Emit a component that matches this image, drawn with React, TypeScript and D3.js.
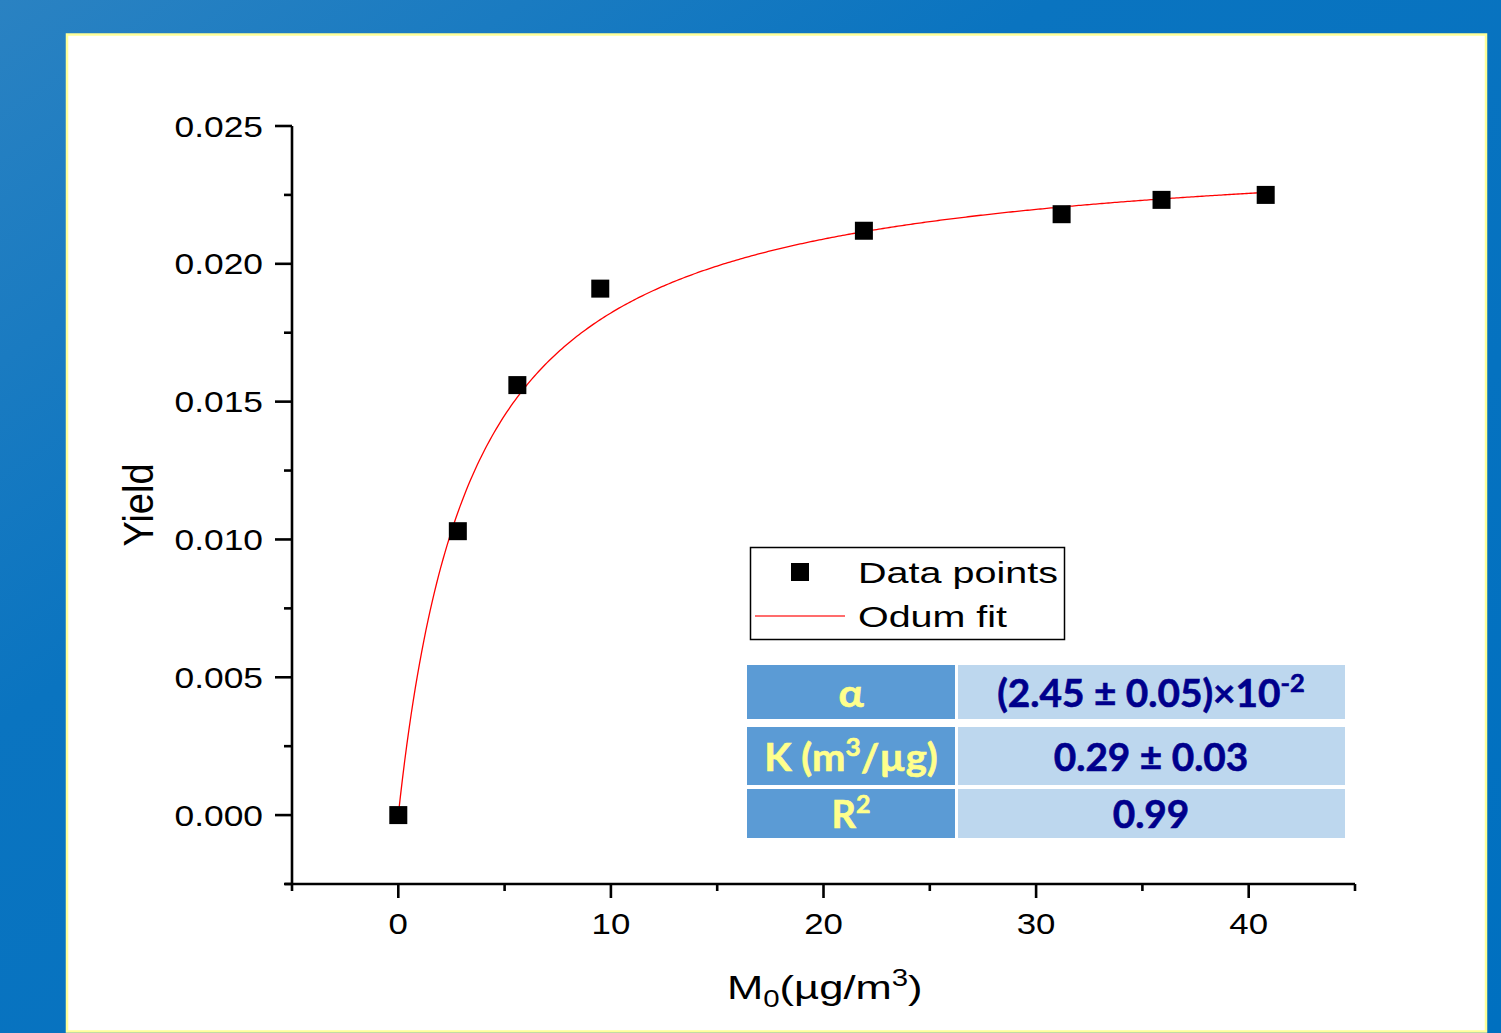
import React from "react";
import * as d3 from "d3";

const M0 = [0, 2.8, 5.6, 9.5, 21.9, 31.2, 35.9, 40.8];
const YIELD = [0.0, 0.0103, 0.0156, 0.0191, 0.0212, 0.0218, 0.02232, 0.0225];
const ALPHA = 0.0245;
const K = 0.29;
const X_MAJOR = [0, 10, 20, 30, 40];
const X_MINOR = [-5, 5, 15, 25, 35, 45];
const Y_MAJOR = [0, 0.005, 0.01, 0.015, 0.02, 0.025];
const Y_MINOR = [-0.0025, 0.0025, 0.0075, 0.0125, 0.0175, 0.0225];
const LEGEND = ["Data points", "Odum fit"];

const W = 1501;
const H = 1033;

export default function App() {
  const x = d3.scaleLinear().domain([-5, 45]).range([292, 1355]);
  const y = d3.scaleLinear().domain([-0.0025, 0.025]).range([884, 126]);

  const fitXs = d3.range(0, 40.8001, 0.1);
  const fitLine = d3
    .line<number>()
    .x((m) => x(m))
    .y((m) => y((ALPHA * K * m) / (1 + K * m)))(fitXs);

  const tickFont = "'Liberation Sans', Arial, sans-serif";
  const tblFont = "Lato, 'Open Sans', sans-serif";
  const yellow = "#ffff8c";
  const navy = "#00008c";

  return (
    <svg
      width={W}
      height={H}
      style={{ position: "absolute", left: 0, top: 0 }}
      xmlns="http://www.w3.org/2000/svg"
    >
      <defs>
        <linearGradient id="bg" x1="0" y1="0" x2="1" y2="1">
          <stop offset="0" stopColor="#2a82c2" />
          <stop offset="0.35" stopColor="#0a74c0" />
          <stop offset="1" stopColor="#0070c0" />
        </linearGradient>
      </defs>
      <rect x={0} y={0} width={W} height={H} fill="url(#bg)" />
      <rect x={67} y={34.5} width={1419} height={997} fill="#ffffff" stroke="#ffff99" strokeWidth={2.5} />

      {/* axes */}
      <g stroke="#000" strokeWidth={2.6} fill="none">
        <line x1={292} y1={y(0.025)} x2={292} y2={884} />
        <line x1={285} y1={884} x2={x(45)} y2={884} />
        {Y_MAJOR.map((v) => (
          <line key={"ym" + v} x1={275} x2={292} y1={y(v)} y2={y(v)} />
        ))}
        {Y_MINOR.map((v) => (
          <line key={"yn" + v} x1={284} x2={292} y1={y(v)} y2={y(v)} />
        ))}
        {X_MAJOR.map((v) => (
          <line key={"xm" + v} x1={x(v)} x2={x(v)} y1={884} y2={898} />
        ))}
        {X_MINOR.map((v) => (
          <line key={"xn" + v} x1={x(v)} x2={x(v)} y1={884} y2={891} />
        ))}
      </g>

      {/* tick labels */}
      <g fontFamily={tickFont} fontSize={29} fill="#000">
        {Y_MAJOR.map((v) => (
          <text
            key={"yl" + v}
            transform={`translate(263,${y(v) + 10.5}) scale(1.22,1)`}
            textAnchor="end"
          >
            {d3.format(".3f")(v)}
          </text>
        ))}
        {X_MAJOR.map((v) => (
          <text
            key={"xl" + v}
            transform={`translate(${x(v)},${934}) scale(1.2,1)`}
            textAnchor="middle"
          >
            {v}
          </text>
        ))}
      </g>

      {/* axis titles */}
      <text
        transform="translate(153,505) rotate(-90) scale(1,1.12)"
        textAnchor="middle"
        fontFamily={tickFont}
        fontSize={38}
      >
        Yield
      </text>
      <text transform="translate(727,999) scale(1.28,1)" fontFamily={tickFont} fontSize={34}>
        <tspan>M</tspan>
        <tspan fontSize={23} dy={8}>0</tspan>
        <tspan dy={-8}>(µg/m</tspan>
        <tspan fontSize={23} dy={-13}>3</tspan>
        <tspan dy={13}>)</tspan>
      </text>

      {/* fit curve */}
      <path d={fitLine || ""} fill="none" stroke="#ff0000" strokeWidth={1.3} />

      {/* data points */}
      {M0.map((m, i) => (
        <rect key={"p" + i} x={x(m) - 9} y={y(YIELD[i]) - 9} width={18} height={18} fill="#000" />
      ))}

      {/* legend */}
      <rect x={750.5} y={547.5} width={314} height={92} fill="#fff" stroke="#000" strokeWidth={1.5} />
      <rect x={791} y={563} width={18} height={18} fill="#000" />
      <line x1={755} x2={845} y1={616} y2={616} stroke="#ff3b3b" strokeWidth={1.5} />
      <text x={858} y={583} fontFamily={tickFont} fontSize={30} textLength={200} lengthAdjust="spacingAndGlyphs">
        {LEGEND[0]}
      </text>
      <text x={858} y={627} fontFamily={tickFont} fontSize={30} textLength={149} lengthAdjust="spacingAndGlyphs">
        {LEGEND[1]}
      </text>

      {/* parameter table */}
      <g>
        <rect x={747} y={665} width={208} height={54} fill="#5b9bd5" />
        <rect x={958} y={665} width={387} height={54} fill="#bdd7ee" />
        <rect x={747} y={727} width={208} height={58} fill="#5b9bd5" />
        <rect x={958} y={727} width={387} height={58} fill="#bdd7ee" />
        <rect x={747} y={789} width={208} height={49} fill="#5b9bd5" />
        <rect x={958} y={789} width={387} height={49} fill="#bdd7ee" />
      </g>
      <g fontFamily={tblFont} fontWeight={700} fontSize={38} strokeWidth={0.6}>
        <text transform="translate(851,707) scale(1.1,1)" textAnchor="middle" fill={yellow} stroke={yellow}>α</text>
        <text transform="translate(1151,707) scale(1.02,1)" textAnchor="middle" fill={navy} stroke={navy}>
          <tspan>(2.45 ± 0.05)×10</tspan>
          <tspan fontSize={25} dy={-15}>-2</tspan>
        </text>
        <text transform="translate(851,771) scale(1.05,1)" textAnchor="middle" fill={yellow} stroke={yellow}>
          <tspan>K (m</tspan>
          <tspan fontSize={25} dy={-15}>3</tspan>
          <tspan dy={15}>/µg)</tspan>
        </text>
        <text transform="translate(1151,771) scale(1.02,1)" textAnchor="middle" fill={navy} stroke={navy}>
          0.29 ± 0.03
        </text>
        <text transform="translate(851,828) scale(1.0,1)" textAnchor="middle" fill={yellow} stroke={yellow}>
          <tspan>R</tspan>
          <tspan fontSize={25} dy={-15}>2</tspan>
        </text>
        <text transform="translate(1151,828) scale(1.02,1)" textAnchor="middle" fill={navy} stroke={navy}>
          0.99
        </text>
      </g>
    </svg>
  );
}
